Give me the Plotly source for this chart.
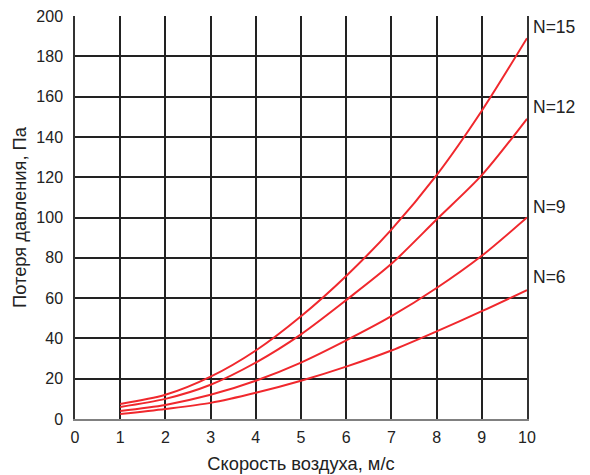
import plotly.graph_objects as go

speed = [1, 2, 3, 4, 5, 6, 7, 8, 9, 10]
n15 = [7.5, 12, 21, 34, 51, 71, 94, 121, 153, 189]
n12 = [6, 10, 17, 28, 42, 59, 77, 99, 121, 149]
n9 = [4, 7, 12, 19, 28, 39, 51, 65, 81, 100]
n6 = [2.5, 5, 8, 13, 19, 26, 34, 43.5, 53.5, 64]
series = [("N=15", n15, 194.5), ("N=12", n12, 155), ("N=9", n9, 105), ("N=6", n6, 70.5)]

fig = go.Figure()
for name, ys, ly in series:
    fig.add_trace(go.Scatter(x=speed, y=ys, mode="lines", name=name,
                             line=dict(color="#f0282d", width=2, shape="spline", smoothing=0.8),
                             showlegend=False, hoverinfo="skip"))
    fig.add_annotation(x=10, y=ly, xref="x", yref="y", text=name, showarrow=False,
                       xanchor="left", yanchor="middle", xshift=4,
                       font=dict(size=17.5, color="#222222", family="Liberation Sans, Arial"))

# page body has an 8px default margin; figure is sized/offset to compensate
fig.update_layout(
    width=574, height=466,
    margin=dict(l=67, r=55, t=8, b=55),
    plot_bgcolor="white", paper_bgcolor="white",
    font=dict(family="Liberation Sans, Arial", size=16, color="#222222"),
    xaxis=dict(range=[0, 10], dtick=1, tick0=0, showgrid=True, gridcolor="#222222", gridwidth=1.5,
               zeroline=False, showline=True, linecolor="#808080", linewidth=2,
               ticks="", ticklabelstandoff=3, automargin=False, ticklabeloverflow="allow",
               title=dict(text="Скорость воздуха, м/с", font=dict(size=18.3), standoff=20)),
    yaxis=dict(range=[0, 200], dtick=20, tick0=0, showgrid=True, gridcolor="#222222", gridwidth=1.5,
               zeroline=False, showline=True, linecolor="#333333", linewidth=1.5, mirror=True,
               ticks="", ticklabelstandoff=7, automargin=False, ticklabeloverflow="allow",
               title=dict(text="Потеря давления, Па", font=dict(size=18.3), standoff=5)),
)
fig.write_html("out.html")
